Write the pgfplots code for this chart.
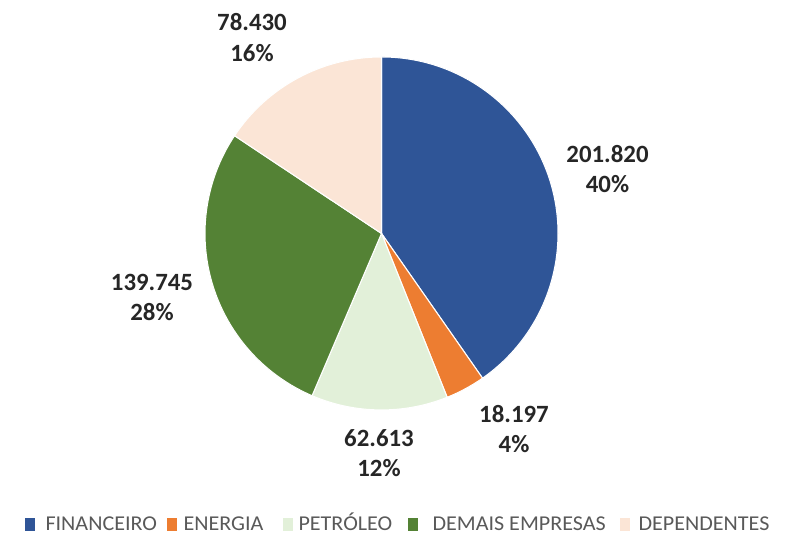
\documentclass[border=0pt]{standalone}
\usepackage{fontspec}
\setmainfont{Carlito}
\usepackage{graphicx}
\usepackage{pgfplots}
\pgfplotsset{compat=1.18}
\definecolor{cfin}{RGB}{47,85,151}
\definecolor{cene}{RGB}{237,125,49}
\definecolor{cpet}{RGB}{226,240,217}
\definecolor{cdem}{RGB}{84,130,53}
\definecolor{cdep}{RGB}{251,229,214}
\definecolor{legtext}{RGB}{89,89,89}
\definecolor{labtext}{RGB}{38,38,38}

\begin{document}
\begin{tikzpicture}
% values in thousands (201.820 = 201820)
\def\total{500.805}
\def\R{66.84pt}
\begin{axis}[
  scale only axis,
  width=298.8pt, height=202.2pt,
  xmin=0, xmax=789, ymin=0, ymax=534,
  hide axis,
  clip=false
]
\path (axis cs:0,0) rectangle (axis cs:789,534);
\xdef\cum{0}
\foreach \v/\p/\c/\lx/\ly in {
  201.820/40/cfin/607.5/364.5,
  18.197/4/cene/514/104.5,
  62.613/12/cpet/379/81,
  139.745/28/cdem/152/236.5,
  78.430/16/cdep/252/496.5}{
  \pgfmathsetmacro\sa{90-360*(\cum/\total)}
  \pgfmathsetmacro\ea{90-360*((\cum+\v)/\total)}
  \edef\temp{\noexpand\fill[\c, draw=white, line width=0.4pt]
    (axis cs:381.5,300.5) -- ++(\sa:\R) arc[start angle=\sa, end angle=\ea, radius=\R] -- cycle;
    \noexpand\node[align=center, text=labtext, font=\noexpand\fontsize{9.4}{11.4}\noexpand\selectfont\noexpand\bfseries]
    at (axis cs:\lx,\ly) {\v\noexpand\\\p\noexpand\%};}
  \temp
  \pgfmathsetmacro\newcum{\cum+\v}
  \xdef\cum{\newcum}
}
% legend
\foreach \c/\x/\tx/\t in {cfin/25/45/FINANCEIRO, cene/167/183/ENERGIA, cpet/283/298/PETRÓLEO, cdem/408/432/DEMAIS EMPRESAS, cdep/620/638/DEPENDENTES}{
  \edef\temp{\noexpand\fill[\c] (axis cs:\x,3) rectangle (axis cs:\x+10,16);
    \noexpand\node[anchor=base west, inner sep=0pt, text=legtext, font=\noexpand\fontsize{8}{9}\noexpand\selectfont]
    at (axis cs:\tx,3.5) {\noexpand\scalebox{1.045}[1]{\t}};}
  \temp
}
\end{axis}
\end{tikzpicture}
\end{document}
